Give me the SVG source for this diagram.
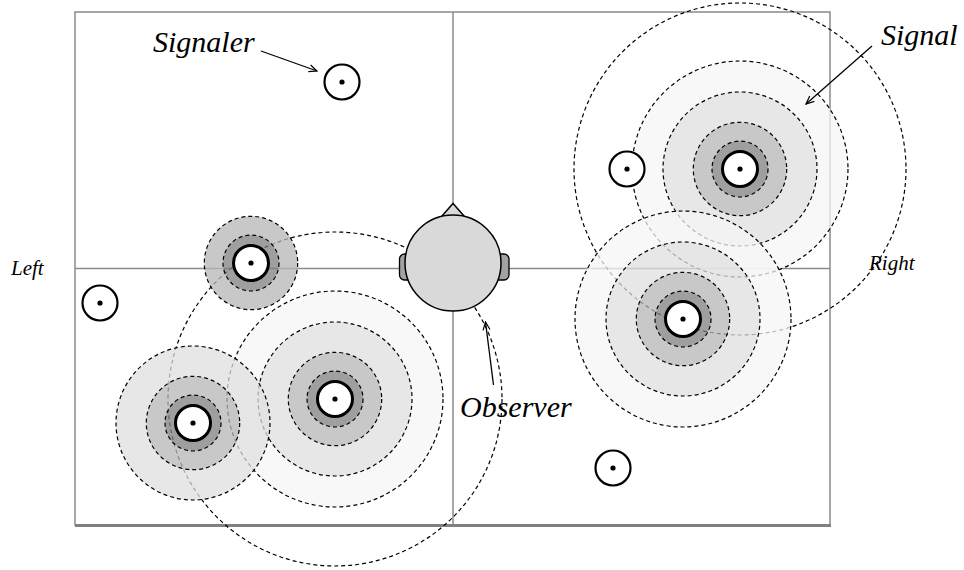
<svg xmlns="http://www.w3.org/2000/svg" width="964" height="570" viewBox="0 0 964 570">
<style>
.grid{fill:none;stroke:#8a8a8a;stroke-width:1.5}
.fills{opacity:0.75}
.vl{fill:#f6f6f6}
.l{fill:#e0e0e0}
.m{fill:#b6b6b6}
.d{fill:#808080}
.ds{fill:none;stroke:#000;stroke-width:1.2;stroke-dasharray:4 3}
.core{fill:#fff;stroke:#000;stroke-width:3}
.iso{fill:#fff;stroke:#000;stroke-width:2.2}
.dot{fill:#000}
text{font-family:'Liberation Serif','DejaVu Serif',serif;font-style:italic;fill:#000}
.big{font-size:30px}
.small{font-size:21px}
.arr{fill:none;stroke:#000;stroke-width:1.3}
.headfill{fill:#d9d9d9;stroke:#000;stroke-width:1.5}
.ear{fill:#a3a3a3;stroke:#000;stroke-width:1.3}
</style>
<defs>
<marker id="ah" viewBox="0 0 10 10" refX="9" refY="5" markerWidth="10" markerHeight="10" markerUnits="userSpaceOnUse" orient="auto">
<path d="M1,1.5 L9,5 L1,8.5" fill="none" stroke="#000" stroke-width="1.2"/>
</marker>
</defs>

<g id="frame">
<rect class="grid" x="75" y="12" width="755" height="513"/>
<line class="grid" x1="453" y1="12" x2="453" y2="525"/>
<line class="grid" x1="75" y1="268.5" x2="830" y2="268.5"/>
<line x1="75" y1="525.5" x2="831" y2="525.5" stroke="#808080" stroke-width="3"/>
</g>

<g id="cluster-middle">
<g class="fills">
<circle class="vl" cx="335" cy="399" r="108"/>
<circle class="l" cx="335" cy="399" r="77"/>
<circle class="m" cx="335" cy="399" r="46.7"/>
<circle class="d" cx="335" cy="399" r="28"/>
</g>
<circle class="ds" cx="335" cy="399" r="167"/>
<circle class="ds" cx="335" cy="399" r="108"/>
<circle class="ds" cx="335" cy="399" r="77"/>
<circle class="ds" cx="335" cy="399" r="46.7"/>
<circle class="ds" cx="335" cy="399" r="28"/>
<circle class="core" cx="335" cy="399" r="17.5"/>
<circle class="dot" cx="335" cy="399" r="2.6"/>
</g>

<g id="cluster-topright">
<g class="fills">
<circle class="vl" cx="740" cy="169" r="108"/>
<circle class="l" cx="740" cy="169" r="77"/>
<circle class="m" cx="740" cy="169" r="46.7"/>
<circle class="d" cx="740" cy="169" r="28"/>
</g>
<circle class="ds" cx="740" cy="169" r="166"/>
<circle class="ds" cx="740" cy="169" r="108"/>
<circle class="ds" cx="740" cy="169" r="77"/>
<circle class="ds" cx="740" cy="169" r="46.7"/>
<circle class="ds" cx="740" cy="169" r="28"/>
<circle class="core" cx="740" cy="169" r="17.5"/>
<circle class="dot" cx="740" cy="169" r="2.6"/>
</g>

<g id="cluster-bottomright">
<g class="fills">
<circle class="vl" cx="683" cy="319" r="108"/>
<circle class="l" cx="683" cy="319" r="77"/>
<circle class="m" cx="683" cy="319" r="46.7"/>
<circle class="d" cx="683" cy="319" r="28"/>
</g>
<circle class="ds" cx="683" cy="319" r="108"/>
<circle class="ds" cx="683" cy="319" r="77"/>
<circle class="ds" cx="683" cy="319" r="46.7"/>
<circle class="ds" cx="683" cy="319" r="28"/>
<circle class="core" cx="683" cy="319" r="17.5"/>
<circle class="dot" cx="683" cy="319" r="2.6"/>
</g>

<g id="cluster-bottomleft">
<g class="fills">
<circle class="l" cx="193" cy="423" r="77"/>
<circle class="m" cx="193" cy="423" r="46.7"/>
<circle class="d" cx="193" cy="423" r="28"/>
</g>
<circle class="ds" cx="193" cy="423" r="77"/>
<circle class="ds" cx="193" cy="423" r="46.7"/>
<circle class="ds" cx="193" cy="423" r="28"/>
<circle class="core" cx="193" cy="423" r="17.5"/>
<circle class="dot" cx="193" cy="423" r="2.6"/>
</g>

<g id="cluster-topleft">
<g class="fills">
<circle class="m" cx="251" cy="263" r="46.7"/>
<circle class="d" cx="251" cy="263" r="28"/>
</g>
<circle class="ds" cx="251" cy="263" r="46.7"/>
<circle class="ds" cx="251" cy="263" r="28"/>
<circle class="core" cx="251" cy="263" r="17.5"/>
<circle class="dot" cx="251" cy="263" r="2.6"/>
</g>

<g id="signaler-1">
<circle class="iso" cx="342" cy="82" r="17.5"/>
<circle class="dot" cx="342" cy="82" r="2.6"/>
</g>
<g id="signaler-2">
<circle class="iso" cx="100" cy="303" r="17.5"/>
<circle class="dot" cx="100" cy="303" r="2.6"/>
</g>
<g id="signaler-3">
<circle class="iso" cx="627" cy="169" r="17.5"/>
<circle class="dot" cx="627" cy="169" r="2.6"/>
</g>
<g id="signaler-4">
<circle class="iso" cx="613" cy="468" r="17.5"/>
<circle class="dot" cx="613" cy="468" r="2.6"/>
</g>

<g id="observer">
<rect class="ear" x="399.5" y="254" width="14" height="26" rx="5"/>
<rect class="ear" x="494" y="254" width="15" height="26" rx="5"/>
<polygon class="headfill" points="442,216 453,203.5 464,216"/>
<circle class="headfill" cx="453" cy="263" r="48"/>
</g>

<g id="connectors">
<line class="arr" x1="261" y1="51" x2="317" y2="71" marker-end="url(#ah)"/>
<line class="arr" x1="872" y1="46" x2="806" y2="104" marker-end="url(#ah)"/>
<line class="arr" x1="493.5" y1="385" x2="485.5" y2="322" marker-end="url(#ah)"/>
</g>

<g id="labels">
<text class="big" x="153" y="52" font-family="Liberation Serif, DejaVu Serif, serif">Signaler</text>
<text class="big" x="881" y="45" font-family="Liberation Serif, DejaVu Serif, serif">Signal</text>
<text class="big" x="460" y="417" font-family="Liberation Serif, DejaVu Serif, serif">Observer</text>
<text class="small" x="11" y="275" font-family="Liberation Serif, DejaVu Serif, serif">Left</text>
<text class="small" x="869" y="270" font-family="Liberation Serif, DejaVu Serif, serif">Right</text>
</g>
</svg>
